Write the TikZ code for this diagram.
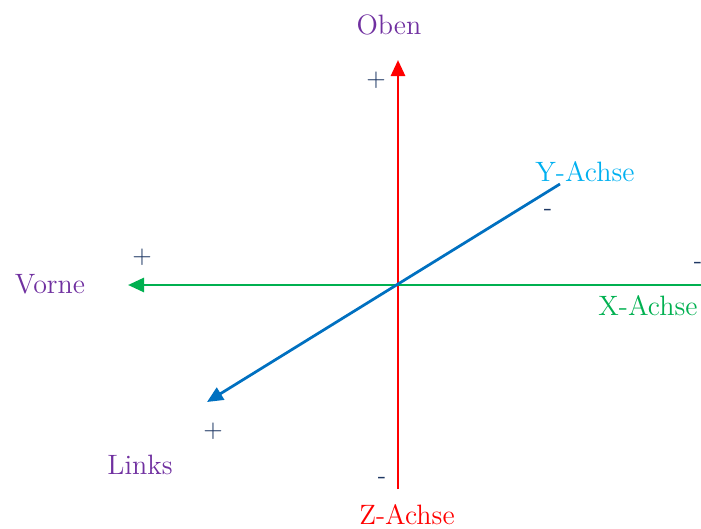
\documentclass[tikz,border=0pt]{standalone}
\usepackage{tikz}
\usepackage{xcolor}
\usetikzlibrary{positioning,arrows.meta,calc}
\definecolor{axpurple}{RGB}{112,48,160}
\definecolor{axcyan}{RGB}{0,176,240}
\definecolor{axgreen}{RGB}{0,176,80}
\definecolor{axred}{RGB}{255,0,0}
\definecolor{axblue}{RGB}{0,112,192}
\definecolor{axnavy}{RGB}{31,56,100}
\tikzset{
  lbl/.style={inner sep=0pt, font=\fontsize{11.2}{13}\selectfont},
  dirlbl/.style={lbl, text=axpurple},
  sign/.style={inner sep=0pt, text=axnavy, font=\fontsize{10}{12}\selectfont},
  axis/.style={-{Triangle[length=6.4pt,width=5.6pt]}, line width=1.1pt}
}

\begin{document}
\begin{tikzpicture}[x=0.4pt, y=-0.4pt]
    \useasboundingbox (0,0) rectangle (701,528);
    % axis end points
    \coordinate (o) at (398,285);
    \coordinate (ztop) at (398,60);
    \coordinate (zbot) at (398,489);
    \coordinate (xleft) at (128,285);
    \coordinate (xright) at (701,285);
    \coordinate (yfar) at (560,184);
    \coordinate (ynear) at (207,402);
    \draw[axis, axred] (zbot) -- (ztop);
    \draw[axis, axgreen] (xright) -- (xleft);
    \draw[axis, axblue] (yfar) -- (ynear);
    % labels
    \node[dirlbl] (oben) at (389,25) {Oben};
    \node[dirlbl] (vorne) at (50,284) {Vorne};
    \node[dirlbl] (links) at (140,465) {Links};
    \node[lbl, text=axred] (zlab) at (407,515) {Z-Achse};
    \node[lbl, text=axgreen] (xlab) at (648,306) {X-Achse};
    \node[lbl, text=axcyan] (ylab) at (585,172) {Y-Achse};
    % signs
    \node[sign] (zplus) at (376,80) {+};
    \node[sign] (zminus) at (382,480) {-};
    \node[sign] (xplus) at (142,257) {+};
    \node[sign] (xminus) at (698,265) {-};
    \node[sign] (yplus) at (213,431) {+};
    \node[sign] (yminus) at (548,212) {-};
  \end{tikzpicture}
\end{document}
